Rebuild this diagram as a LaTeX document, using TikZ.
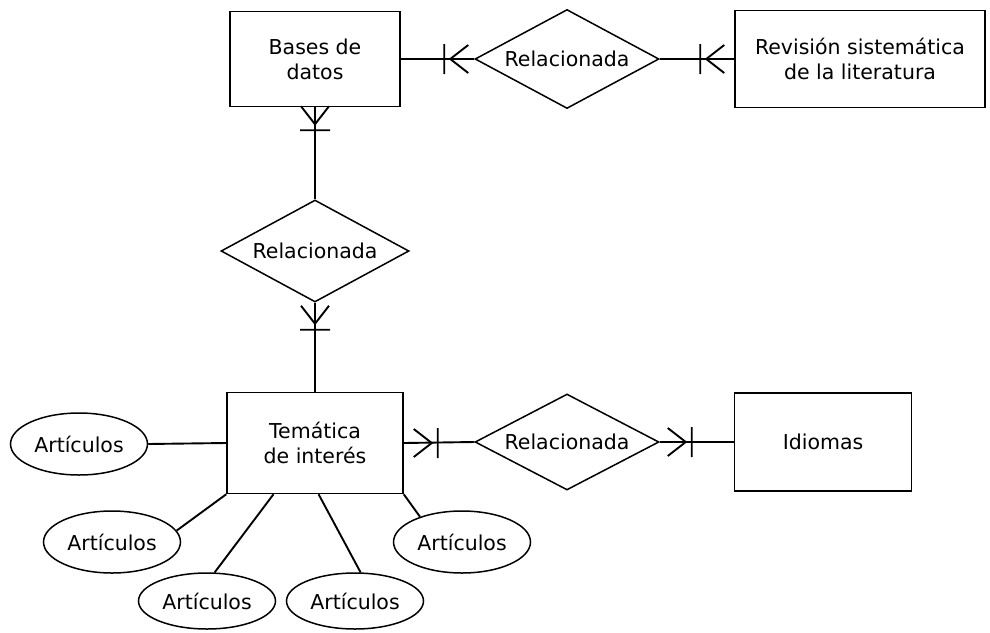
\documentclass[tikz,border=0pt]{standalone}
\usepackage{fontspec}
\setmainfont{DejaVu Sans}
\usetikzlibrary{positioning,calc,shapes.geometric}

\begin{document}
\begin{tikzpicture}[x=1pt, y=1pt,
  every node/.style={font=\fontsize{20.5}{25}\selectfont},
  entity/.style={rectangle, draw, line width=1.5pt, align=center, inner sep=0pt},
  rel/.style={diamond, draw, line width=1.5pt, aspect=1.87,
              minimum width=184pt, minimum height=99pt, inner sep=0pt},
  attr/.style={ellipse, draw, line width=1.5pt, minimum width=137pt,
               minimum height=62pt, inner sep=0pt},
  link/.style={line width=1.9pt},
  crow/.pic={\draw[line width=1.9pt] (18,14) -- (0,0) -- (18,-14)
                                     (-6,15) -- (-6,-15);},
]
\useasboundingbox (0,0) rectangle (990,-632);
%─── Upper row ─────────────────────────────────────────────────────────────
\node[entity, minimum width=170pt, minimum height=95pt] (bd)  at (315,-59)
  {Bases de\\datos};
\node[rel] (r1) at (567,-59) {Relacionada};
\node[entity, minimum width=250pt, minimum height=97pt] (rsl) at (860,-59)
  {Revisión sistemática\\de la literatura};
\draw[link] (bd.east) -- (r1.west);
\draw[link] (r1.east) -- (rsl.west);
\pic at ($(r1.west)+(-24,0)$) {crow};
\pic at ($(rsl.west)+(-28,0)$) {crow};
%─── Middle relation ───────────────────────────────────────────────────────
\node[rel, minimum width=188pt, minimum height=102pt] (r2) at (315,-251) {Relacionada};
\draw[link] (bd.south) -- (r2.north);
\pic[rotate=90] at ($(bd.south)+(0,-17)$) {crow};
%─── Lower row ─────────────────────────────────────────────────────────────
\node[entity, minimum width=176pt, minimum height=101pt] (tema) at (315,-443)
  {Temática\\de interés};
\node[rel, minimum height=96pt] (r3) at (567,-442) {Relacionada};
\node[entity, minimum width=177pt, minimum height=98pt] (idi) at (823,-442)
  {Idiomas};
\draw[link] (r2.south) -- (tema.north);
\pic[rotate=90] at ($(r2.south)+(0,-21)$) {crow};
\draw[link] (tema.east) -- (r3.west);
\draw[link] (r3.east) -- (idi.west);
\pic[rotate=180] at ($(tema.east)+(28,0)$) {crow};
\pic[rotate=180] at ($(idi.west)+(-48,0)$) {crow};
%─── Attributes ────────────────────────────────────────────────────────────
\node[attr] (a1) at (79,-444)  {Artículos};
\node[attr] (a2) at (112,-542) {Artículos};
\node[attr, minimum height=56pt] (a3) at (207,-601) {Artículos};
\node[attr, minimum height=56pt] (a4) at (355,-601) {Artículos};
\node[attr] (a5) at (462,-542) {Artículos};
\draw[link] (a1.east) -- (tema.west);
\draw[link] (a2.10)   -- (tema.south west);
\draw[link] (a3.75)   -- (tema.-129);
\draw[link] (a4.79)   -- (tema.-86);
\draw[link] (a5.149)  -- (tema.south east);
\end{tikzpicture}
\end{document}
